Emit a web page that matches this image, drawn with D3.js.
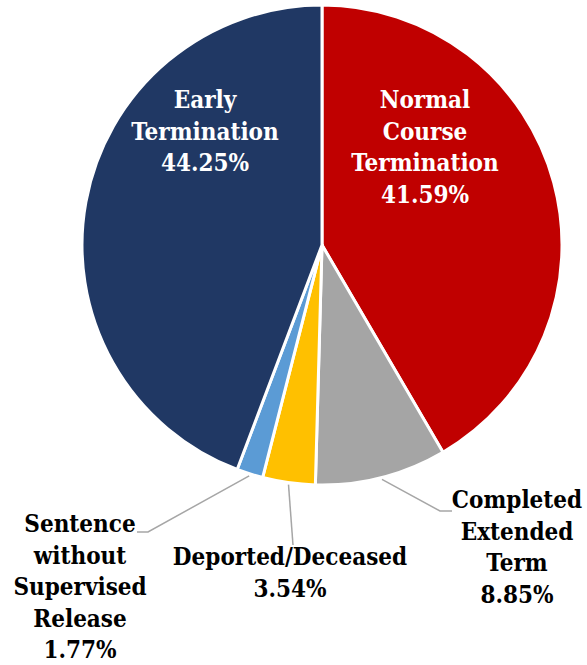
<!DOCTYPE html>
<html>
<head>
<meta charset="utf-8">
<script src="https://cdn.jsdelivr.net/npm/d3@7"></script>
<style>
  body { margin: 0; background: #fff; }
</style>
</head>
<body>
<div class="chart"></div>
<script>
const w = 587;
const h = 665;

// data
const categories = ["Normal Course Termination", "Completed Extended Term", "Deported/Deceased",
                    "Sentence without Supervised Release", "Early Termination"];
const values = [41.59, 8.85, 3.54, 1.77, 44.25];
const colors = ["#C00000", "#A5A5A5", "#FFC000", "#5B9BD5", "#203864"];
const labelLines = [
  ["Normal", "Course", "Termination", "41.59%"],
  ["Completed", "Extended", "Term", "8.85%"],
  ["Deported/Deceased", "3.54%"],
  ["Sentence", "without", "Supervised", "Release", "1.77%"],
  ["Early", "Termination", "44.25%"]
];

// label layout (first baseline)
const labelPos = [[425, 108], [517, 508], [290, 565], [80, 532], [205, 108]];
const labelFill = ["#fff", "#000", "#000", "#000", "#fff"];
// leader line bend points
const leaders = [null, [[440, 511], [452, 511]], [[293, 545]], [[148, 532], [137, 532]], null];

const cx = 322, cy = 245, r = 240;
const lineH = 31.5;

const svg = d3.select(".chart")
              .append("svg")
              .attr("width", w)
              .attr("height", h);

const pie = d3.pie().sort(null).value(d => d);
const arcs = pie(values);
const arc = d3.arc().innerRadius(0).outerRadius(r);

const g = svg.append("g").attr("transform", "translate(" + cx + "," + cy + ")");

g.selectAll("path")
 .data(arcs)
 .enter()
 .append("path")
 .attr("d", arc)
 .attr("fill", (d, i) => colors[i])
 .attr("stroke", "#fff")
 .attr("stroke-width", 3)
 .attr("stroke-linejoin", "round");

// leader lines
arcs.forEach((d, i) => {
  if (!leaders[i]) return;
  const a = (d.startAngle + d.endAngle) / 2;
  const sx = cx + (r + 2) * Math.sin(a);
  const sy = cy - (r + 2) * Math.cos(a);
  const pts = [[sx, sy]].concat(leaders[i]);
  svg.append("path")
     .attr("d", d3.line()(pts))
     .attr("fill", "none")
     .attr("stroke", "#A6A6A6")
     .attr("stroke-width", 1.5);
});

// labels
labelLines.forEach((lines, i) => {
  const t = svg.append("text")
               .attr("x", labelPos[i][0])
               .attr("y", labelPos[i][1])
               .attr("text-anchor", "middle")
               .style("font-family", "'DejaVu Serif Condensed', 'DejaVu Serif', serif")
               .style("font-stretch", "condensed")
               .style("font-weight", "bold")
               .style("font-size", "24px")
               .attr("fill", labelFill[i]);
  lines.forEach((s, j) => {
    t.append("tspan")
     .attr("x", labelPos[i][0])
     .attr("y", labelPos[i][1] + j * lineH)
     .text(s);
  });
});
</script>
</body>
</html>
